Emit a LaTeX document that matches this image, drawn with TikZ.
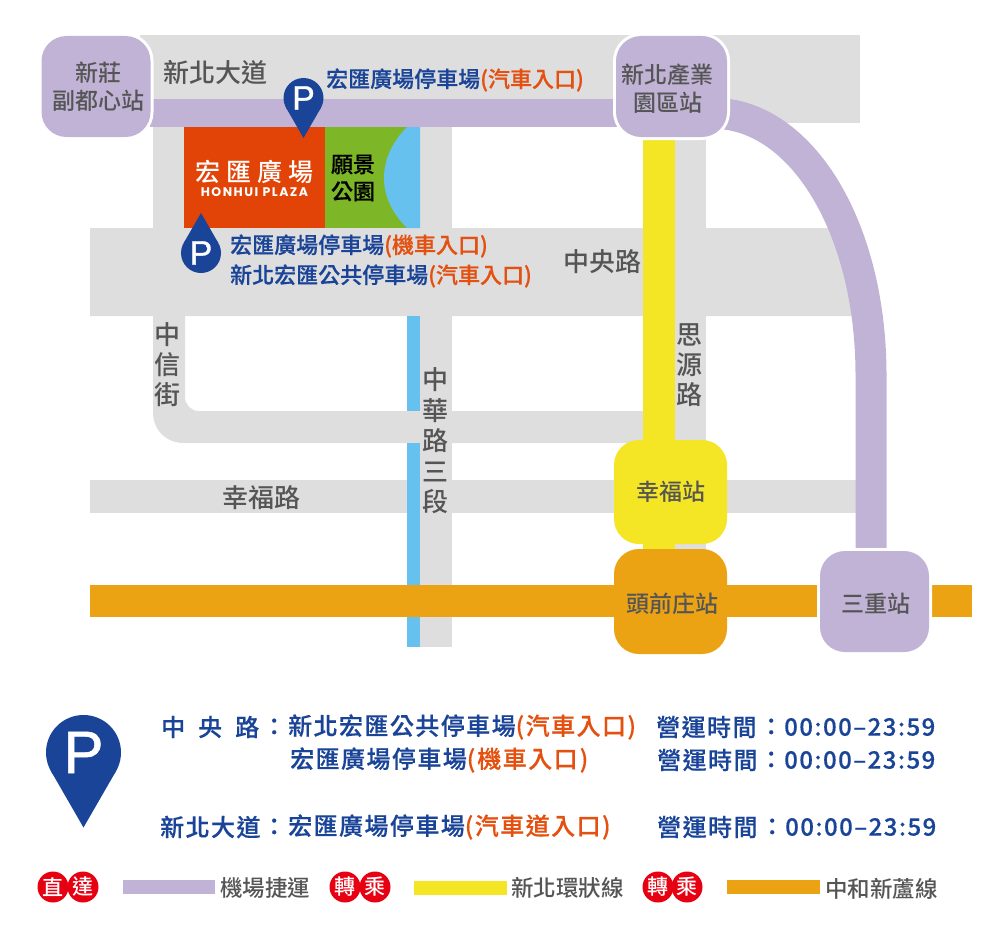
\documentclass[tikz,border=0pt]{standalone}
\usepackage{fontspec}
\usetikzlibrary{positioning,backgrounds}
\setmainfont{Noto Sans CJK TC}
\newfontfamily\medfont{Noto Sans CJK TC Medium}
\newfontfamily\bluefont[FakeBold=0.4]{Noto Sans CJK TC Medium}
\newfontfamily\legendfont[LetterSpace=6,FakeBold=0.4]{Noto Sans CJK TC Medium}
\newfontfamily\brandfont[LetterSpace=12]{Poppins}
\newfontfamily\pinfont[FakeBold=1]{Liberation Sans}
\newcommand{\fs}[1]{\fontsize{#1}{#1}\selectfont}
\definecolor{roadgray}{HTML}{DEDEDE}
\definecolor{airport}{HTML}{C1B3D6}
\definecolor{circular}{HTML}{F5E625}
\definecolor{zhonghe}{HTML}{EBA313}
\definecolor{parkblue}{HTML}{67C1EE}
\definecolor{parkgreen}{HTML}{7DB728}
\definecolor{plaza}{HTML}{E24307}
\definecolor{navy}{HTML}{1A4498}
\definecolor{entry}{HTML}{E4500F}
\definecolor{labelgray}{HTML}{555555}
\definecolor{badgered}{HTML}{E60012}
\tikzset{
    %Define style for stations
    station/.style={
           rectangle,
           rounded corners=25,
           minimum width=#1,
           minimum height=103,
           inner sep=0,
           align=center,
           text=labelgray,
           font=\medfont\fs{23}},
    halo/.style={preaction={draw=white,line width=6}},
    %Define style for roads and lines
    road/.style={draw=roadgray,line width=32},
    metro/.style={draw=#1,line width=32},
    %Define style for texts
    roadname/.style={inner sep=0,text=labelgray,align=center,font=\medfont\fs{26}},
    parking/.style={inner sep=0,anchor=west,text=navy,font=\bluefont\fs{22}},
    legendline/.style={inner sep=0,anchor=west,text=navy,font=\legendfont\fs{24}},
    linename/.style={inner sep=0,anchor=west,text=labelgray,font=\medfont\fs{22.5}},
    badge/.style={circle,fill=badgered,minimum size=31,inner sep=0,text=white,font=\medfont\fs{21}},
    pinletter/.style={inner sep=0,text=white,font=\pinfont\fs{#1}},
    swatch/.style={fill=#1},
    pin/.pic={
      \fill[navy] (0,0) circle (20);
      \fill[navy] (-17.3,10) -- (0,40) -- (17.3,10) -- cycle;
    }
}
\newcommand{\car}[1]{{\color{entry}#1}}
\newcommand{\lift}[1]{\rule{0pt}{#1pt}}

\begin{document}
\begin{tikzpicture}[x=1pt,y=-1pt]
\useasboundingbox (0,0) rectangle (1000,947);

% stations
\node[station=109,minimum height=101,fill=airport,halo] (xinzhuang) at (96,86.5) {\kern4pt 新莊\\[5pt]\kern4pt 副都心站};
\node[station=111,minimum height=101,fill=airport,halo] (chanye) at (671.5,86.5) {\lift{24}新北產業\kern8pt\\[5pt]園區站\kern8pt};
\node[station=113,minimum height=104,fill=circular] (xingfu) at (670.5,492) {幸福站};
\node[station=113,minimum height=105,fill=zhonghe] (touqian) at (670.5,601.5) {\lift{24}\kern4pt 頭前庄站};
\node[station=109,minimum height=101,fill=airport,halo] (sanchong) at (874.5,601.5) {\lift{24}\kern2pt 三重站};

% free ends of the lines
\coordinate (orangeW) at (90,600.5);
\coordinate (orangeE) at (972,600.5);
\coordinate (curveA) at (725,114);
\coordinate (curveB) at (871,375);
\coordinate (curveC) at (871,552);

\begin{scope}[on background layer]
\fill[roadgray] (140,35) rectangle (860,123);
\fill[roadgray] (90,228) -- (830,228) -- (865,316) -- (90,316) -- cycle;
\fill[roadgray] (90,480) rectangle (860,513);
\fill[roadgray] (153,123) -- (153,412) .. controls (153,430) and (166,443) .. (184,443) -- (660,443) -- (660,411) -- (199,411) .. controls (191,411) and (185,405) .. (185,397) -- (185,123) -- cycle;
\draw[road] (436,123) -- (436,647);
\draw[road,line width=31] (690.5,130) -- (690.5,590);
\fill[parkblue] (407,316) rectangle (420,411);
\fill[parkblue] (407,443) rectangle (420,647);
\draw[metro=circular] ([xshift=-12.5pt]chanye.south) -- ([xshift=-12.5pt]chanye.south |- touqian.north);
\draw[metro=zhonghe] (orangeW) -- (orangeW -| sanchong);
\draw[metro=zhonghe] (orangeE -| sanchong) -- (orangeE);
\fill[airport] (150,99) rectangle (625,127);
\draw[metro=airport,line width=31] (curveA) .. controls (808,124) and (871,235) .. (curveB) -- (curveC);
\end{scope}

% plaza and park
\node[fill=plaza,minimum width=141,minimum height=101,inner sep=0] (plazabox) at (254.5,177.5) {};
\node[fill=parkgreen,minimum width=95,minimum height=101,inner sep=0] (parkbox) at (372.5,177.5) {};
\fill[parkblue] (407,127) .. controls (392,142) and (384,160) .. (384,178) .. controls (384,196) and (392,213) .. (407,228) -- (420,228) -- (420,127) -- cycle;
\node[inner sep=0,text=white,font=\medfont\fs{25}] (plazaname) at (254,172) {宏\kern6pt 匯\kern6pt 廣\kern6pt 場};
\node[inner sep=0,text=white,font=\brandfont\bfseries\fs{12.5}] (plazaen) at (254.5,192) {HONHUI PLAZA};
\node[inner sep=0,align=center,font=\bluefont\fs{22}] (parkname) at (353,178) {願景\\[5pt]公園};

% road names
\node[roadname,anchor=west] (xinbei) at (163,73) {新北大道};
\node[roadname,anchor=west] (zhongyang) at (563,262) {中央路};
\node[roadname,anchor=west] (xingfurd) at (222,498) {幸福路};
\node[roadname] (zhongxin) at (167,365) {中\\[4pt]信\\[4pt]街};
\node[roadname] (siyuan) at (689,365) {思\\[4pt]源\\[4pt]路};
\node[roadname] (zhonghua) at (435,441) {中\\[4.5pt]華\\[4.5pt]路\\[4.5pt]三\\[4.5pt]段};

% parking marks
\pic at (303.5,98) {pin};
\node[pinletter=34] (pinA) at (303.5,98) {P};
\pic[rotate=180] at (201,253) {pin};
\node[pinletter=34] (pinB) at (201,253) {P};
\pic[scale=1.875] at (83.5,752.5) {pin};
\node[pinletter=60] (pinC) at (83.5,752.5) {P};
\node[parking] (lotA) at (326,80) {宏匯廣場停車場\car{(汽車入口)}};
\node[parking] (lotB) at (230,246) {宏匯廣場停車場\car{(機車入口)}};
\node[parking] (lotC) at (230,276) {新北宏匯公共停車場\car{(汽車入口)}};

% parking table
\node[legendline] (rowA) at (161,727) {中\kern13pt 央\kern13pt 路};
\node[legendline] (colonA) at (262,727) {：};
\node[legendline] (rowAlot) at (288,727) {新北宏匯公共停車場\car{(汽車入口)}};
\node[legendline] (rowAtime) at (656,727) {營運時間};
\node[legendline] (rowAcolon) at (759,727) {：};
\node[legendline] (rowAhours) at (784,727) {00:00–23:59};
\node[legendline] (rowBlot) at (290,760) {宏匯廣場停車場\car{(\kern2pt 機車入口\kern2pt)}};
\node[legendline] (rowBtime) at (657,760) {營運時間};
\node[legendline] (rowBcolon) at (759,760) {：};
\node[legendline] (rowBhours) at (784,760) {00:00–23:59};
\node[legendline] (rowC) at (160,827) {新北大道};
\node[legendline] (colonC) at (262,827) {：};
\node[legendline] (rowClot) at (288,827) {宏匯廣場停車場\car{(汽車道入口)}};
\node[legendline] (rowCtime) at (657,827) {營運時間};
\node[legendline] (rowCcolon) at (760,827) {：};
\node[legendline] (rowChours) at (785,827) {00:00–23:59};

% line legend
\node[badge] (directA) at (53,887) {直};
\node[badge] (directB) at (83,887) {達};
\fill[swatch=airport] (123,880) rectangle (215,894);
\node[linename] (airportname) at (220,888) {機場捷運};
\node[badge] (transferA) at (345,887) {轉};
\node[badge] (transferB) at (375,887) {乘};
\fill[swatch=circular] (414,881) rectangle (507,895);
\node[linename] (circularname) at (511,888) {新北環狀線};
\node[badge] (transferC) at (658,887) {轉};
\node[badge] (transferD) at (687,887) {乘};
\fill[swatch=zhonghe] (727,880) rectangle (820,894);
\node[linename] (zhonghename) at (825,889) {中和新蘆線};
\end{tikzpicture}
\end{document}
